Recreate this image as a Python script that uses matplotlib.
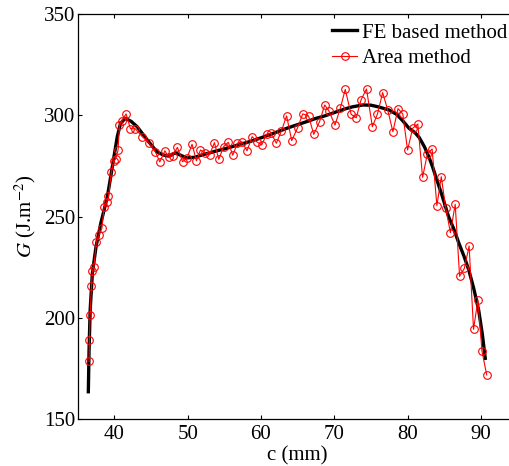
import matplotlib
matplotlib.use("Agg")
import matplotlib.pyplot as plt

# FE based method (smooth curve)
fe_c = [36.45, 36.55, 36.7, 37.0, 37.5, 38.15, 39.05, 39.5, 39.95, 40.4,
        40.85, 41.5, 42.3, 43.1, 44.5, 45.8, 46.7, 47.5, 48.3, 49.1,
        49.9, 51.0, 52.0, 53.0, 54.0, 55.3, 56.5, 57.5, 58.7, 59.85,
        61.0, 62.2, 63.3, 64.4, 65.5, 66.5, 67.5, 68.5, 69.35, 70.5,
        71.5, 72.5, 73.9, 75.0, 76.0, 77.5, 78.5, 79.3, 80.2, 81.0,
        81.6, 82.3, 82.9, 83.4, 84.0, 84.7, 85.6, 86.3, 87.0, 87.7,
        88.35, 89.0, 89.7, 90.2, 90.6]
fe_G = [163.6, 184.2, 203.9, 222.0, 235.2, 246.7, 259.9, 269.7, 279.6, 289.5,
        296.1, 298.5, 297.0, 294.4, 287.8, 282.0, 280.4, 279.8, 281.5, 280.2,
        279.0, 279.3, 280.5, 281.5, 282.5, 283.7, 285.0, 286.0, 287.3, 288.7,
        290.2, 291.8, 293.3, 294.7, 296.0, 297.2, 298.5, 299.5, 300.5, 302.0,
        303.2, 304.2, 305.1, 305.0, 304.2, 302.6, 300.5, 297.5, 293.6, 291.5,
        289.0, 284.5, 279.6, 274.7, 268.1, 260.5, 250.0, 244.0, 236.9, 230.5,
        223.7, 215.0, 203.9, 192.0, 180.1]

# Area method (noisy points)
area_c = [36.55, 36.6, 36.69, 36.88, 37.0, 37.2, 37.55, 37.9, 38.3, 38.6,
          38.95, 39.2, 39.6, 39.9, 40.2, 40.5, 40.7, 41.0, 41.6, 42.2,
          42.85, 43.8, 44.7, 45.6, 46.2, 46.9, 47.4, 47.95, 48.6, 49.3,
          49.9, 50.6, 51.2, 51.75, 52.4, 53.0, 53.65, 54.25, 54.9, 55.55,
          56.15, 56.8, 57.4, 58.1, 58.8, 59.4, 60.1, 60.8, 61.4, 62.1,
          62.8, 63.5, 64.2, 65.0, 65.7, 66.5, 67.2, 68.0, 68.7, 69.25,
          70.1, 70.85, 71.5, 72.3, 73.0, 73.65, 74.4, 75.2, 75.9, 76.6,
          77.3, 78.0, 78.7, 79.35, 80.0, 80.7, 81.4, 82.05, 82.7, 83.35,
          84.0, 84.6, 85.2, 85.85, 86.5, 87.1, 87.75, 88.4, 89.0, 89.6,
          90.15, 90.8]
area_G = [178.6, 189.3, 201.6, 215.6, 223.2, 225.3, 237.6, 240.9, 244.2, 254.6,
          257.4, 260.0, 272.0, 277.3, 278.6, 282.7, 295.1, 297.2, 300.7, 293.4,
          293.4, 289.5, 286.5, 282.0, 277.0, 282.5, 279.3, 280.1, 284.2, 277.1,
          278.8, 285.7, 277.6, 282.9, 281.3, 280.6, 286.5, 278.3, 284.5, 286.7,
          280.3, 286.3, 287.0, 282.5, 289.5, 287.0, 285.4, 290.8, 291.1, 286.2,
          292.4, 299.7, 287.5, 293.9, 300.7, 299.7, 290.6, 296.9, 305.1, 302.3,
          295.2, 303.8, 312.8, 300.5, 298.8, 307.6, 313.0, 294.4, 300.7, 311.2,
          302.6, 291.9, 303.3, 300.7, 282.9, 293.6, 295.7, 269.4, 280.9, 283.4,
          255.4, 269.7, 254.4, 242.1, 256.1, 220.6, 224.5, 235.5, 194.4, 208.9,
          183.7, 171.9]

x_ticks = [40, 50, 60, 70, 80, 90]
y_ticks = [150, 200, 250, 300, 350]

plt.rcParams['font.family'] = ['Liberation Serif', 'DejaVu Serif']
plt.rcParams['mathtext.fontset'] = 'stix'

fig = plt.figure(figsize=(5.09, 4.66), dpi=100)
ax = fig.add_axes([77.7 / 509, 1 - 419.3 / 466, (517.5 - 77.7) / 509, (419.3 - 14) / 466])

ax.plot(fe_c, fe_G, color='black', lw=2.4, label='FE based method', zorder=3)
ax.plot(area_c, area_G, color='red', lw=0.8, marker='o', markersize=5.5,
        markerfacecolor='none', markeredgecolor='red', markeredgewidth=0.8,
        label='Area method', zorder=4)

ax.set_xlim(35, 95)
ax.set_ylim(150, 350)
ax.set_xticks(x_ticks)
ax.set_yticks(y_ticks)
ax.tick_params(direction='in', length=3, width=0.8, labelsize=15,
               top=True, right=True)
ax.tick_params(axis='x', pad=4)
ax.tick_params(axis='y', pad=2)
for s in ax.spines.values():
    s.set_linewidth(0.9)

ax.set_xlabel('c (mm)', fontsize=15, labelpad=2)
ax.set_ylabel(r'$G$ (J.m$^{-2}$)', fontsize=15, labelpad=4)

ax.legend(loc='upper left', bbox_to_anchor=(332 / 509, 1 - 23 / 466),
          bbox_transform=fig.transFigure, frameon=False, fontsize=15,
          handlelength=1.2, handletextpad=0.25, labelspacing=0.3,
          borderpad=0, borderaxespad=0)

fig.savefig('out.png', dpi=100)
